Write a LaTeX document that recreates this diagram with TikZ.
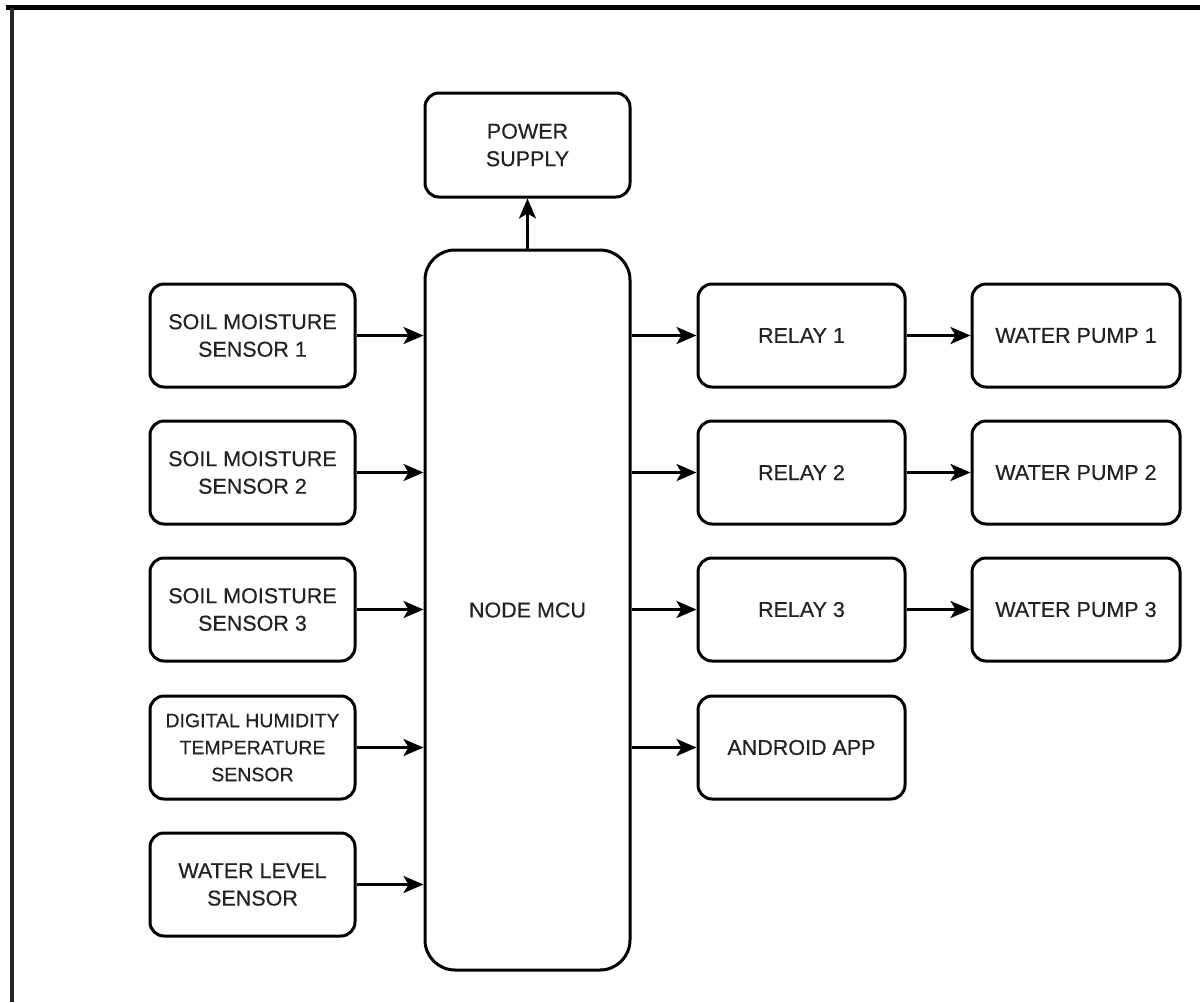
\documentclass[tikz,border=0pt]{standalone}
\usepackage{fontspec}
\setmainfont{Liberation Sans}[FakeBold=0.4]
\usetikzlibrary{arrows.meta}
\definecolor{txt}{HTML}{222222}
\tikzset{
  box/.style={draw=black, line width=3pt, rounded corners=14pt, fill=white, align=center,
    text=txt, font=\fontsize{21.5}{27.5}\selectfont, inner sep=0pt},
  sbox/.style={box, minimum width=205pt, minimum height=103pt},
  rbox/.style={box, minimum width=207pt, minimum height=103pt},
  pbox/.style={box, minimum width=208pt, minimum height=103pt},
  conn/.style={line width=3pt, -{Stealth[length=20pt,width=17pt,inset=5pt]}},
}
\begin{document}
\begin{tikzpicture}[x=1pt,y=-1pt]
\useasboundingbox (0,0) rectangle (1200,1002);
\fill[white] (0,0) rectangle (1200,1002);
% frame
\draw[line width=5pt] (6,7.5) -- (1200,7.5);
\draw[line width=3.5pt, black!85] (12,8) -- (12,1002);
% nodes
\node[box, minimum width=205pt, minimum height=104pt] (ps) at (527.5,145) {POWER\\SUPPLY};
\node[box, rounded corners=30pt, minimum width=205pt, minimum height=720pt] (mcu) at (527.5,610) {NODE MCU};
\node[sbox] (s1) at (252.5,335.5) {SOIL MOISTURE\\SENSOR 1};
\node[sbox] (s2) at (252.5,472.5) {SOIL MOISTURE\\SENSOR 2};
\node[sbox] (s3) at (252.5,609.5) {SOIL MOISTURE\\SENSOR 3};
\node[sbox, font=\fontsize{19.5}{27}\selectfont] (dht) at (252.5,747.5) {DIGITAL HUMIDITY\\TEMPERATURE\\SENSOR};
\node[sbox] (wl) at (252.5,884.5) {WATER LEVEL\\SENSOR};
\node[rbox] (r1) at (801.5,335.5) {RELAY 1};
\node[rbox] (r2) at (801.5,472.5) {RELAY 2};
\node[rbox] (r3) at (801.5,609.5) {RELAY 3};
\node[rbox] (app) at (801.5,747.5) {ANDROID APP};
\node[pbox] (p1) at (1076,335.5) {WATER PUMP 1};
\node[pbox] (p2) at (1076,472.5) {WATER PUMP 2};
\node[pbox] (p3) at (1076,609.5) {WATER PUMP 3};
% connectors
\draw[conn] (mcu.north) -- (ps.south);
\foreach \n in {s1,s2,s3,dht,wl}{
  \draw[conn] (\n.east) -- (\n.east -| mcu.west);
}
\foreach \n in {r1,r2,r3,app}{
  \draw[conn] (\n.west -| mcu.east) -- (\n.west);
}
\draw[conn] (r1) -- (p1);
\draw[conn] (r2) -- (p2);
\draw[conn] (r3) -- (p3);
\end{tikzpicture}
\end{document}
